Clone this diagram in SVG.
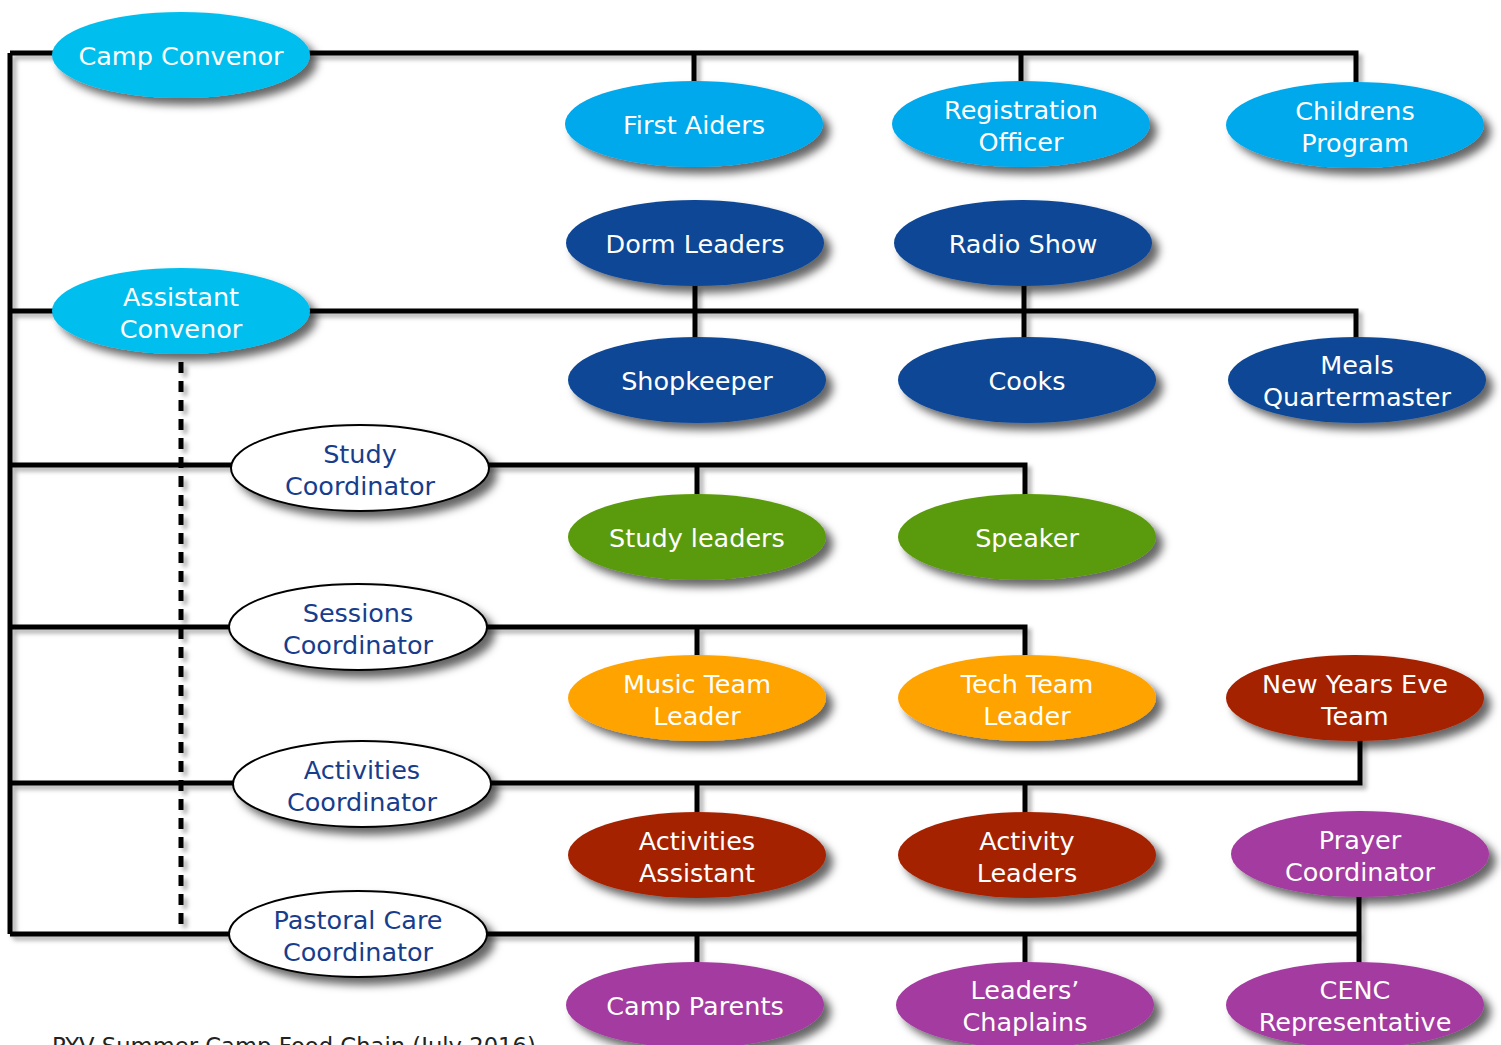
<svg xmlns="http://www.w3.org/2000/svg" width="1501" height="1045" viewBox="0 0 1501 1045">
<defs>
<filter id="sh" x="-20%" y="-30%" width="150%" height="170%">
<feDropShadow dx="7" dy="7" stdDeviation="4" flood-color="#000" flood-opacity="0.6"/>
</filter>
<filter id="lsh" x="-5%" y="-5%" width="110%" height="110%">
<feDropShadow dx="4" dy="4" stdDeviation="2" flood-color="#000" flood-opacity="0.3"/>
</filter>
<style>
.ln{fill:none;stroke:#000;stroke-width:5}
.dash{fill:none;stroke:#000;stroke-width:5;stroke-dasharray:11 8}
ellipse{filter:url(#sh)}
.cyan{fill:#00bfee}
.sky{fill:#00a8ec}
.navy{fill:#0a4696}
.green{fill:#5a9a08}
.orange{fill:#ffa300}
.red{fill:#a52100}
.purple{fill:#a33ba0}
.white{fill:#fff;stroke:#000;stroke-width:2}
text{font-family:"DejaVu Sans","Verdana",sans-serif;font-size:25.5px;text-anchor:middle}
.w{fill:#fff}
.b{fill:#173d8c}
.foot{fill:#222;font-size:22.7px;text-anchor:start}
</style>
</defs>
<g id="connectors" filter="url(#lsh)">
<path class="ln" d="M10,53 H1356 V85 M694,53 V85 M1021,53 V85"/>
<path class="ln" d="M10,53 V934"/>
<path class="ln" d="M10,311 H1356 V340 M695,285 V340 M1024,285 V340"/>
<path class="ln" d="M10,465 H1025 V498 M697,465 V498"/>
<path class="ln" d="M10,627 H1025 V658 M697,627 V658"/>
<path class="ln" d="M10,783 H1360 V738 M697,783 V815 M1025,783 V815"/>
<path class="ln" d="M10,934 H1359 M1359,895 V965 M697,934 V965 M1025,934 V965"/>
<path class="dash" d="M181,362 V928"/>
</g>
<g id="camp-convenor"><ellipse class="cyan" cx="181" cy="55" rx="129" ry="43"/><text class="w" x="181" y="65">Camp Convenor</text></g>
<g id="first-aiders"><ellipse class="sky" cx="694" cy="124" rx="129" ry="43"/><text class="w" x="694" y="134">First Aiders</text></g>
<g id="registration-officer"><ellipse class="sky" cx="1021" cy="124" rx="129" ry="43"/><text class="w" x="1021" y="119">Registration</text><text class="w" x="1021" y="151">Officer</text></g>
<g id="childrens-program"><ellipse class="sky" cx="1355" cy="125" rx="129" ry="43"/><text class="w" x="1355" y="120">Childrens</text><text class="w" x="1355" y="152">Program</text></g>
<g id="dorm-leaders"><ellipse class="navy" cx="695" cy="243" rx="129" ry="43"/><text class="w" x="695" y="253">Dorm Leaders</text></g>
<g id="radio-show"><ellipse class="navy" cx="1023" cy="243" rx="129" ry="43"/><text class="w" x="1023" y="253">Radio Show</text></g>
<g id="assistant-convenor"><ellipse class="cyan" cx="181" cy="311" rx="129" ry="43"/><text class="w" x="181" y="306">Assistant</text><text class="w" x="181" y="338">Convenor</text></g>
<g id="shopkeeper"><ellipse class="navy" cx="697" cy="380" rx="129" ry="43"/><text class="w" x="697" y="390">Shopkeeper</text></g>
<g id="cooks"><ellipse class="navy" cx="1027" cy="380" rx="129" ry="43"/><text class="w" x="1027" y="390">Cooks</text></g>
<g id="meals-quartermaster"><ellipse class="navy" cx="1357" cy="380" rx="129" ry="43"/><text class="w" x="1357" y="374">Meals</text><text class="w" x="1357" y="406">Quartermaster</text></g>
<g id="study-coordinator"><ellipse class="white" cx="360" cy="468" rx="129" ry="43"/><text class="b" x="360" y="463">Study</text><text class="b" x="360" y="495">Coordinator</text></g>
<g id="study-leaders"><ellipse class="green" cx="697" cy="537" rx="129" ry="43"/><text class="w" x="697" y="547">Study leaders</text></g>
<g id="speaker"><ellipse class="green" cx="1027" cy="537" rx="129" ry="43"/><text class="w" x="1027" y="547">Speaker</text></g>
<g id="sessions-coordinator"><ellipse class="white" cx="358" cy="627" rx="129" ry="43"/><text class="b" x="358" y="622">Sessions</text><text class="b" x="358" y="654">Coordinator</text></g>
<g id="music-team-leader"><ellipse class="orange" cx="697" cy="698" rx="129" ry="43"/><text class="w" x="697" y="693">Music Team</text><text class="w" x="697" y="725">Leader</text></g>
<g id="tech-team-leader"><ellipse class="orange" cx="1027" cy="698" rx="129" ry="43"/><text class="w" x="1027" y="693">Tech Team</text><text class="w" x="1027" y="725">Leader</text></g>
<g id="new-years-eve-team"><ellipse class="red" cx="1355" cy="698" rx="129" ry="43"/><text class="w" x="1355" y="693">New Years Eve</text><text class="w" x="1355" y="725">Team</text></g>
<g id="activities-coordinator"><ellipse class="white" cx="362" cy="784" rx="129" ry="43"/><text class="b" x="362" y="779">Activities</text><text class="b" x="362" y="811">Coordinator</text></g>
<g id="activities-assistant"><ellipse class="red" cx="697" cy="855" rx="129" ry="43"/><text class="w" x="697" y="850">Activities</text><text class="w" x="697" y="882">Assistant</text></g>
<g id="activity-leaders"><ellipse class="red" cx="1027" cy="855" rx="129" ry="43"/><text class="w" x="1027" y="850">Activity</text><text class="w" x="1027" y="882">Leaders</text></g>
<g id="prayer-coordinator"><ellipse class="purple" cx="1360" cy="854" rx="129" ry="43"/><text class="w" x="1360" y="849">Prayer</text><text class="w" x="1360" y="881">Coordinator</text></g>
<g id="pastoral-care-coordinator"><ellipse class="white" cx="358" cy="934" rx="129" ry="43"/><text class="b" x="358" y="929">Pastoral Care</text><text class="b" x="358" y="961">Coordinator</text></g>
<g id="camp-parents"><ellipse class="purple" cx="695" cy="1005" rx="129" ry="43"/><text class="w" x="695" y="1015">Camp Parents</text></g>
<g id="leaders-chaplains"><ellipse class="purple" cx="1025" cy="1005" rx="129" ry="43"/><text class="w" x="1025" y="999">Leaders’</text><text class="w" x="1025" y="1031">Chaplains</text></g>
<g id="cenc-representative"><ellipse class="purple" cx="1355" cy="1005" rx="129" ry="43"/><text class="w" x="1355" y="999">CENC</text><text class="w" x="1355" y="1031">Representative</text></g>
<text class="foot" x="52" y="1054">PYV Summer Camp Food Chain (July 2016)</text>
</svg>
